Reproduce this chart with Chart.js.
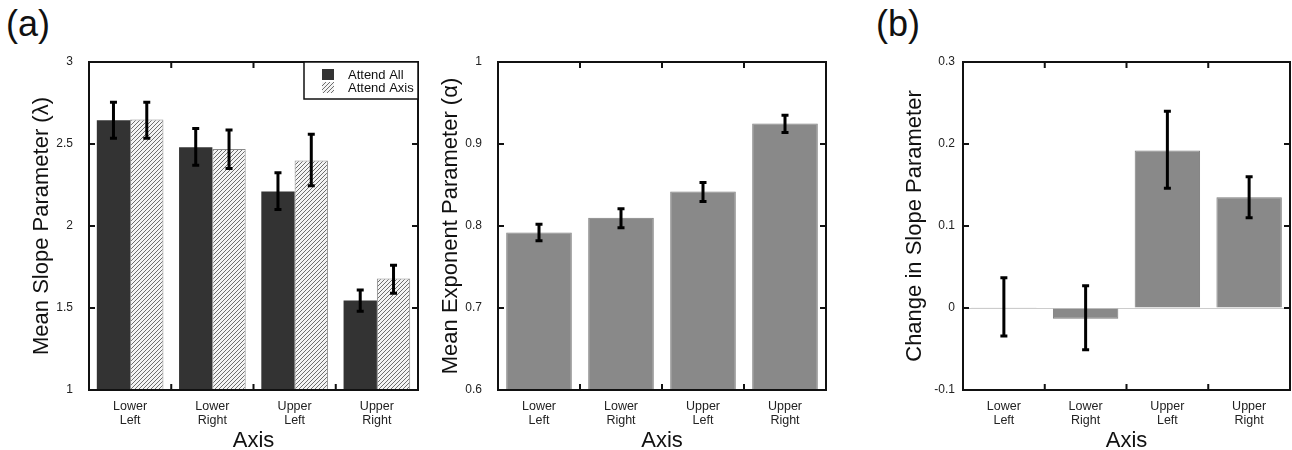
<!DOCTYPE html>
<html>
<head>
<meta charset="utf-8">
<script src="https://cdn.jsdelivr.net/npm/chart.js@4/dist/chart.umd.min.js"></script>
<style>
  html, body { margin: 0; padding: 0; background: #fff; }
  body { width: 1292px; height: 450px; position: relative; overflow: hidden;
         font-family: "Liberation Sans", Arial, sans-serif; color: #111; }
  canvas { position: absolute; top: 0; }
  .panel-tag { position: absolute; top: 6px; font-size: 36px; line-height: 36px; }
</style>
</head>
<body>
<div class="panel-tag" style="left:6px">(a)</div>
<div class="panel-tag" style="left:876px">(b)</div>
<canvas id="slope"    width="430" height="450" style="left:0px"></canvas>
<canvas id="exponent" width="430" height="450" style="left:430px"></canvas>
<canvas id="change"   width="432" height="450" style="left:860px"></canvas>

<script>
// ── Data ──────────────────────────────────
const axisCats = [["Lower", "Left"], ["Lower", "Right"], ["Upper", "Left"], ["Upper", "Right"]];

// (a) left: mean slope parameter
const slopeTickLabels = ["1", "1.5", "2", "2.5", "3"];
const attendAllMean   = [2.645, 2.48, 2.21, 1.545];
const attendAllLo     = [2.535, 2.37, 2.10, 1.48];
const attendAllHi     = [2.755, 2.595, 2.325, 1.61];
const attendAxisMean  = [2.65, 2.47, 2.40, 1.68];
const attendAxisLo    = [2.535, 2.35, 2.245, 1.59];
const attendAxisHi    = [2.755, 2.585, 2.56, 1.76];

// (a) right: mean exponent parameter
const exponentTickLabels = ["0.6", "0.7", "0.8", "0.9", "1"];
const exponentMean = [0.792, 0.810, 0.842, 0.925];
const exponentLo   = [0.782, 0.798, 0.830, 0.914];
const exponentHi   = [0.802, 0.821, 0.853, 0.935];

// (b) change in slope parameter
const changeTickLabels = ["-0.1", "0", "0.1", "0.2", "0.3"];
const changeMean = [0.001, -0.013, 0.192, 0.135];
const changeLo   = [-0.034, -0.051, 0.146, 0.110];
const changeHi   = [0.037, 0.027, 0.240, 0.160];

// ── Styles ────────────────────────────────
const FONT = "'Liberation Sans', Arial, sans-serif";
const DARK = "#333333";
const GREY = "#898989";

function makeHatch() {
  const c = document.createElement("canvas");
  c.width = c.height = 4;
  const g = c.getContext("2d");
  g.fillStyle = "#f4f4f4";
  g.fillRect(0, 0, 4, 4);
  g.strokeStyle = "#6e6e6e";
  g.lineWidth = 1;
  g.beginPath();
  g.moveTo(0, 4);  g.lineTo(4, 0);
  g.moveTo(-1, 1); g.lineTo(1, -1);
  g.moveTo(3, 5);  g.lineTo(5, 3);
  g.stroke();
  return g.createPattern(c, "repeat");
}
const HATCH = makeHatch();

// ── Plugins ───────────────────────────────
const errorBars = {
  id: "errorBars",
  afterDatasetsDraw(chart) {
    const { ctx } = chart;
    const y = chart.scales.y;
    ctx.save();
    ctx.strokeStyle = "#000";
    ctx.lineWidth = 3;
    chart.data.datasets.forEach((ds, di) => {
      chart.getDatasetMeta(di).data.forEach((bar, i) => {
        const top = y.getPixelForValue(ds.errHi[i]);
        const bot = y.getPixelForValue(ds.errLo[i]);
        ctx.beginPath();
        ctx.moveTo(bar.x, top); ctx.lineTo(bar.x, bot);
        ctx.moveTo(bar.x - 3.5, top); ctx.lineTo(bar.x + 3.5, top);
        ctx.moveTo(bar.x - 3.5, bot); ctx.lineTo(bar.x + 3.5, bot);
        ctx.stroke();
      });
    });
    ctx.restore();
  }
};

const frame = {
  id: "frame",
  afterDraw(chart) {
    const { ctx, chartArea: a } = chart;
    const x = chart.scales.x, y = chart.scales.y;
    const T = 6;
    ctx.save();
    ctx.strokeStyle = "#111";
    ctx.lineWidth = 2;
    ctx.strokeRect(a.left, a.top, a.right - a.left, a.bottom - a.top);
    ctx.beginPath();
    // inward ticks on left/right
    y.ticks.forEach((t, i) => {
      if (i === 0 || i === y.ticks.length - 1) return;
      const py = y.getPixelForTick(i);
      ctx.moveTo(a.left, py);  ctx.lineTo(a.left + T, py);
      ctx.moveTo(a.right, py); ctx.lineTo(a.right - T, py);
    });
    // inward ticks on top/bottom between categories
    for (let i = 1; i < x.ticks.length; i++) {
      const px = (x.getPixelForValue(i - 1) + x.getPixelForValue(i)) / 2;
      ctx.moveTo(px, a.top);    ctx.lineTo(px, a.top + T);
      ctx.moveTo(px, a.bottom); ctx.lineTo(px, a.bottom - T);
    }
    ctx.stroke();
    ctx.restore();
  }
};

const boxLegend = {
  id: "boxLegend",
  afterDraw(chart) {
    const { ctx, chartArea: a } = chart;
    const w = 114, h = 37;
    const bx = a.right - w, by = a.top;
    ctx.save();
    ctx.fillStyle = "#fff";
    ctx.fillRect(bx, by, w, h);
    ctx.strokeStyle = "#111";
    ctx.lineWidth = 1.5;
    ctx.strokeRect(bx, by, w, h);
    ctx.font = "13px " + FONT;
    ctx.textBaseline = "alphabetic";
    chart.data.datasets.forEach((ds, i) => {
      const sy = by + 7 + i * 13;
      ctx.fillStyle = ds.backgroundColor;
      ctx.fillRect(bx + 18, sy, 12, 11);
      ctx.fillStyle = "#111";
      ctx.fillText(ds.label, bx + 44, sy + 10);
    });
    ctx.restore();
  }
};

// ── Chart builder ─────────────────────────
function makeChart(id, opts) {
  return new Chart(document.getElementById(id), {
    type: "bar",
    data: { labels: axisCats, datasets: opts.datasets },
    options: {
      responsive: false,
      animation: false,
      devicePixelRatio: 1,
      layout: { padding: { left: 0, top: 62, right: opts.padRight, bottom: 0 } },
      plugins: { legend: { display: false }, tooltip: { enabled: false } },
      datasets: { bar: opts.barOpts },
      scales: {
        x: {
          grid: { display: false },
          border: { display: false },
          ticks: { color: "#222", font: { family: FONT, size: 12.5, lineHeight: 1.15 }, padding: 1, maxRotation: 0, autoSkip: false },
          title: { display: true, text: "Axis", color: "#111",
                   font: { family: FONT, size: 22, lineHeight: 0.8 }, padding: { top: 0, bottom: 0 } },
          afterFit(s) { s.height = 60; }
        },
        y: {
          min: opts.min, max: opts.max,
          grid: opts.grid || { display: false },
          border: { display: false },
          ticks: { stepSize: opts.step, color: "#222", padding: 8,
                   font: { family: FONT, size: 12 },
                   callback: (v, i) => opts.tickLabels[i] },
          title: { display: true, text: opts.yTitle, color: "#111",
                   font: { family: FONT, size: 22, lineHeight: 1 }, padding: { top: opts.titlePad, bottom: 0 } },
          afterFit(s) { s.width = opts.yWidth; }
        }
      }
    },
    plugins: opts.plugins
  });
}

// ── (a) left ──────────────────────────────
makeChart("slope", {
  datasets: [
    { label: "Attend All",  data: attendAllMean,  errLo: attendAllLo,  errHi: attendAllHi,
      backgroundColor: DARK, borderWidth: 0 },
    { label: "Attend Axis", data: attendAxisMean, errLo: attendAxisLo, errHi: attendAxisHi,
      backgroundColor: HATCH, borderColor: "#8a8a8a", borderWidth: 1 }
  ],
  barOpts: { categoryPercentage: 0.81, barPercentage: 1.0 },
  min: 1, max: 3, step: 0.5, tickLabels: slopeTickLabels,
  yTitle: "Mean Slope Parameter (λ)", titlePad: 31, yWidth: 89, padRight: 12,
  plugins: [errorBars, frame, boxLegend]
});

// ── (a) right ─────────────────────────────
makeChart("exponent", {
  datasets: [
    { label: "Exponent", data: exponentMean, errLo: exponentLo, errHi: exponentHi,
      backgroundColor: GREY, borderColor: "#7d7d7d", borderWidth: 1 }
  ],
  barOpts: { categoryPercentage: 1.0, barPercentage: 0.8 },
  min: 0.6, max: 1, step: 0.1, tickLabels: exponentTickLabels,
  yTitle: "Mean Exponent Parameter (α)", titlePad: 10, yWidth: 68, padRight: 34,
  plugins: [errorBars, frame]
});

// ── (b) ───────────────────────────────────
makeChart("change", {
  datasets: [
    { label: "Change", data: changeMean, errLo: changeLo, errHi: changeHi,
      backgroundColor: GREY, borderColor: "#7d7d7d", borderWidth: 1 }
  ],
  barOpts: { categoryPercentage: 1.0, barPercentage: 0.8 },
  min: -0.1, max: 0.3, step: 0.1, tickLabels: changeTickLabels,
  grid: { drawTicks: false, lineWidth: 1,
          color: c => Math.abs(c.tick.value) < 1e-9 ? "#cccccc" : "rgba(0,0,0,0)" },
  yTitle: "Change in Slope Parameter", titlePad: 44, yWidth: 103, padRight: 2,
  plugins: [errorBars, frame]
});
</script>
</body>
</html>
